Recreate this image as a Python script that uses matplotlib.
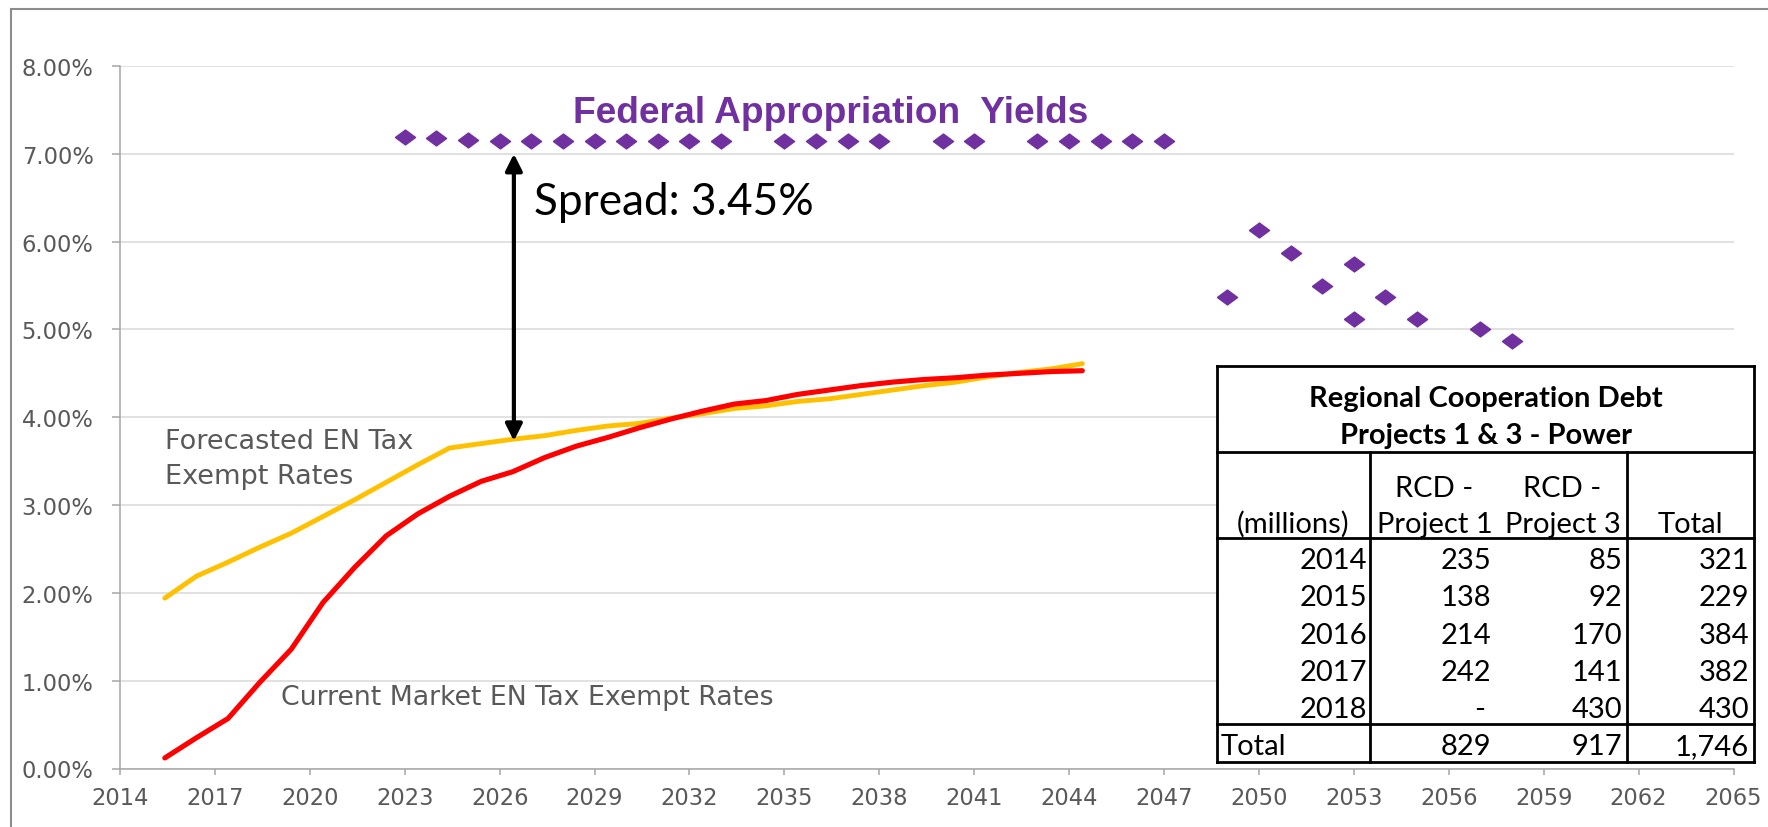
import matplotlib
matplotlib.use('Agg')
import matplotlib.pyplot as plt
from matplotlib.patches import Rectangle
from matplotlib.ticker import FuncFormatter

W, H = 1768, 828

# EN tax exempt rates (%), one point per year, dated about June 1
rate_years = list(range(2015, 2045))
forecast_rates = [1.94, 2.19, 2.35, 2.52, 2.68, 2.87, 3.06, 3.26, 3.46, 3.65,
                  3.70, 3.75, 3.79, 3.85, 3.90, 3.93, 3.99, 4.04, 4.10, 4.13,
                  4.18, 4.21, 4.26, 4.31, 4.36, 4.40, 4.46, 4.51, 4.55, 4.61]
current_rates = [0.12, 0.35, 0.57, 0.98, 1.36, 1.89, 2.29, 2.65, 2.90, 3.10,
                 3.27, 3.38, 3.54, 3.67, 3.77, 3.88, 3.98, 4.07, 4.15, 4.19,
                 4.26, 4.31, 4.36, 4.40, 4.43, 4.45, 4.48, 4.50, 4.52, 4.53]

# federal appropriation yields (%)
fed_years = [2023, 2024, 2025, 2026, 2027, 2028, 2029, 2030, 2031, 2032, 2033,
             2035, 2036, 2037, 2038, 2040, 2041, 2043, 2044, 2045, 2046, 2047,
             2049, 2050, 2051, 2052, 2053, 2053, 2054, 2055, 2057, 2058]
fed_yields = [7.19, 7.18, 7.16, 7.15, 7.15, 7.15, 7.15, 7.15, 7.15, 7.15, 7.15,
              7.15, 7.15, 7.15, 7.15, 7.15, 7.15, 7.15, 7.15, 7.15, 7.15, 7.15,
              5.37, 6.13, 5.87, 5.50, 5.75, 5.12, 5.37, 5.12, 5.00, 4.87]

spread_label = 'Spread: 3.45%'
spread_top = 7.00
spread_bottom = 3.73
spread_year = 2026.45

# debt table
table_title = ['Regional Cooperation Debt', 'Projects 1 & 3 - Power']
debt_years = ['2014', '2015', '2016', '2017', '2018']
rcd_p1 = ['235', '138', '214', '242', '-']
rcd_p3 = ['85', '92', '170', '141', '430']
rcd_total = ['321', '229', '384', '382', '430']
total_row = ['Total', '829', '917', '1,746']

GRAY = '#595959'
PURPLE = '#7030A0'

plt.rcParams['font.family'] = ['DejaVu Sans']

fig = plt.figure(figsize=(W / 100, H / 100), dpi=100)
ax = fig.add_axes([120 / W, 1 - 769.5 / H, (1733.5 - 120) / W, (769.5 - 67) / H])

x = [y + 5 / 12 for y in rate_years]
ax.plot(x, forecast_rates, color='#FFC000', lw=3.5, solid_capstyle='round',
        solid_joinstyle='round', zorder=3)
ax.plot(x, current_rates, color='#FF0000', lw=3.7, solid_capstyle='round',
        solid_joinstyle='round', zorder=4)
diamond = [(-1, 0), (0, 0.74), (1, 0), (0, -0.74), (-1, 0)]
ax.plot(fed_years, fed_yields, ls='none', marker=diamond, ms=14.5,
        color=PURPLE, mec=PURPLE, zorder=5)

ax.set_xlim(2014, 2065)
ax.set_ylim(0, 8)
ax.set_xticks(range(2014, 2066, 3))
ax.set_yticks(range(0, 9))
ax.yaxis.set_major_formatter(FuncFormatter(lambda v, p: f'{v:.2f}%'))
ax.grid(axis='y', color='#D9D9D9', lw=1.1)
ax.set_axisbelow(True)
for s in ['top', 'right']:
    ax.spines[s].set_visible(False)
for s in ['left', 'bottom']:
    ax.spines[s].set_color('#A6A6A6')
    ax.spines[s].set_linewidth(1.1)
ax.tick_params(axis='y', length=6, width=1.1, pad=13, color='#A6A6A6',
               labelcolor=GRAY, labelsize=16.3)
ax.tick_params(axis='x', length=4, width=1.1, pad=8.5, color='#A6A6A6',
               labelcolor=GRAY, labelsize=16.3)

ax.annotate('', xy=(spread_year, spread_bottom), xytext=(spread_year, spread_top),
            arrowprops=dict(arrowstyle='<|-|>,head_length=0.5,head_width=0.25',
                            mutation_scale=20, lw=3, color='black',
                            shrinkA=0, shrinkB=0), zorder=6)
ax.text(2027.09, 6.315, spread_label, ha='left', va='baseline', fontsize=31.8,
        family='Lato', color='black')
ax.text(2036.46, 7.364, 'Federal Appropriation  Yields', ha='center',
        va='baseline', fontsize=26.7, fontweight='bold', family='Liberation Sans',
        color=PURPLE)
ax.text(2015.42, 3.655, 'Forecasted EN Tax', ha='left', va='baseline',
        fontsize=19.5, color=GRAY)
ax.text(2015.42, 3.252, 'Exempt Rates', ha='left', va='baseline',
        fontsize=19.5, color=GRAY)
ax.text(2019.10, 0.735, 'Current Market EN Tax Exempt Rates', ha='left',
        va='baseline', fontsize=19.3, color=GRAY)

# table drawn in its own pixel-unit axes
tx0, ty0, tw, th = 1217.4, 366.7, 536.9, 396.0
tax = fig.add_axes([tx0 / W, 1 - (ty0 + th) / H, tw / W, th / H])
tax.set_xlim(0, tw)
tax.set_ylim(th, 0)
tax.set_xticks([])
tax.set_yticks([])
tax.set_facecolor('white')
for s in tax.spines.values():
    s.set_linewidth(2)
    s.set_color('black')

div1, div2 = 152.1, 409.1
for yy in [86.6, 172.6, 358.6]:
    tax.plot([0, tw], [yy, yy], color='black', lw=2, clip_on=False)
for xx in [div1, div2]:
    tax.plot([xx, xx], [86.6, th], color='black', lw=2, clip_on=False)

tfont = dict(family='Lato', fontsize=21, color='black', va='baseline')
tax.text(tw / 2, 40, table_title[0], ha='center', fontweight='bold', **tfont)
tax.text(tw / 2, 77.6, table_title[1], ha='center', fontweight='bold', **tfont)

tax.text(76, 166, '(millions)', ha='center', **tfont)
tax.text(217, 130.6, 'RCD -', ha='center', **tfont)
tax.text(217, 166, 'Project 1', ha='center', **tfont)
tax.text(345, 130.6, 'RCD -', ha='center', **tfont)
tax.text(345, 166, 'Project 3', ha='center', **tfont)
tax.text(473, 166, 'Total', ha='center', **tfont)

col_right = [149.9, 274.2, 404.6, 531.5]
for i, (yr, a, b, t) in enumerate(zip(debt_years, rcd_p1, rcd_p3, rcd_total)):
    yb = 202.6 + i * 37.1
    tax.text(col_right[0], yb, yr, ha='right', **tfont)
    if a == '-':
        tax.text(col_right[1] - 7, yb, a, ha='right', **tfont)
    else:
        tax.text(col_right[1], yb, a, ha='right', **tfont)
    tax.text(col_right[2], yb, b, ha='right', **tfont)
    tax.text(col_right[3], yb, t, ha='right', **tfont)

tax.text(3.6, 388, total_row[0], ha='left', **tfont)
for xr, v in zip(col_right[1:], total_row[1:]):
    tax.text(xr, 388, v, ha='right', **tfont)

# chart area border (left and top edges visible)
fig.add_artist(Rectangle((11 / W, -0.1), 1.2, 1 - 10 / H + 0.1,
                         transform=fig.transFigure, fill=False,
                         ec='#8C8C8C', lw=1.5))

fig.savefig('out.png', dpi=100)
